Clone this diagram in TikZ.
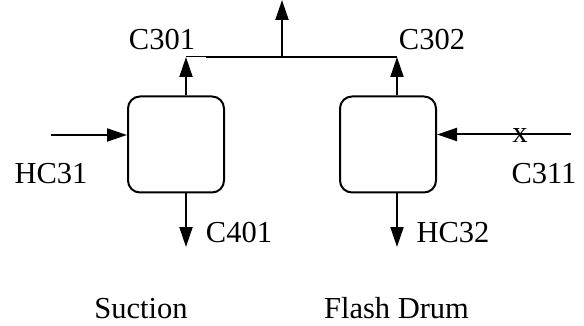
\documentclass[tikz,border=0pt]{standalone}
\usepackage{fontspec}
\setmainfont{Liberation Serif}
\usetikzlibrary{arrows.meta}
\begin{document}
\begin{tikzpicture}[x=1pt,y=-1pt,
  unitbox/.style={draw,line width=2pt,rounded corners=12pt,minimum width=96pt,minimum height=96pt,inner sep=0pt},
  flow/.style={line width=2pt,-{Triangle[length=20pt,width=13pt]}},
  pipe/.style={line width=2pt},
  thinpipe/.style={line width=1pt},
  lbl/.style={font=\fontsize{30.5}{36}\selectfont,inner sep=0pt,anchor=base}]
\useasboundingbox (0,0) rectangle (584,326);
\node[unitbox] (L) at (176,144.5) {};
\node[unitbox] (R) at (388,144.5) {};
\coordinate (lu) at (186,57);
\coordinate (ru) at (397,57);
\coordinate (mj) at (206,57);
\coordinate (tj) at (282,57);
\coordinate (top) at (282,0);
\coordinate (ld) at (186,247);
\coordinate (rd) at (397,247);
\coordinate (hin) at (51,135);
\coordinate (cin) at (571,134.5);
\draw[flow] (L.north -| lu) -- (lu);
\draw[flow] (R.north -| ru) -- (ru);
\draw[thinpipe] (lu) -- (mj);
\draw[pipe] (mj) -- (ru);
\draw[flow] (tj) -- (top);
\draw[flow] (L.south -| ld) -- (ld);
\draw[flow] (R.south -| rd) -- (rd);
\draw[flow] (hin) -- (hin -| L.west);
\draw[flow] (cin) -- (cin -| R.east);
\node[lbl] (c301) at (162,50) {C301};
\node[lbl] (c302) at (432,50) {C302};
\node[lbl] (hc31) at (51,183) {HC31};
\node[lbl] (c311) at (544,183) {C311};
\node[lbl] (xm) at (520,143) {x};
\node[lbl] (c401) at (239,242) {C401};
\node[lbl] (hc32) at (453,242) {HC32};
\node[lbl] (suc) at (141,318) {Suction};
\node[lbl] (fd) at (396.5,318) {Flash Drum};
\end{tikzpicture}
\end{document}
